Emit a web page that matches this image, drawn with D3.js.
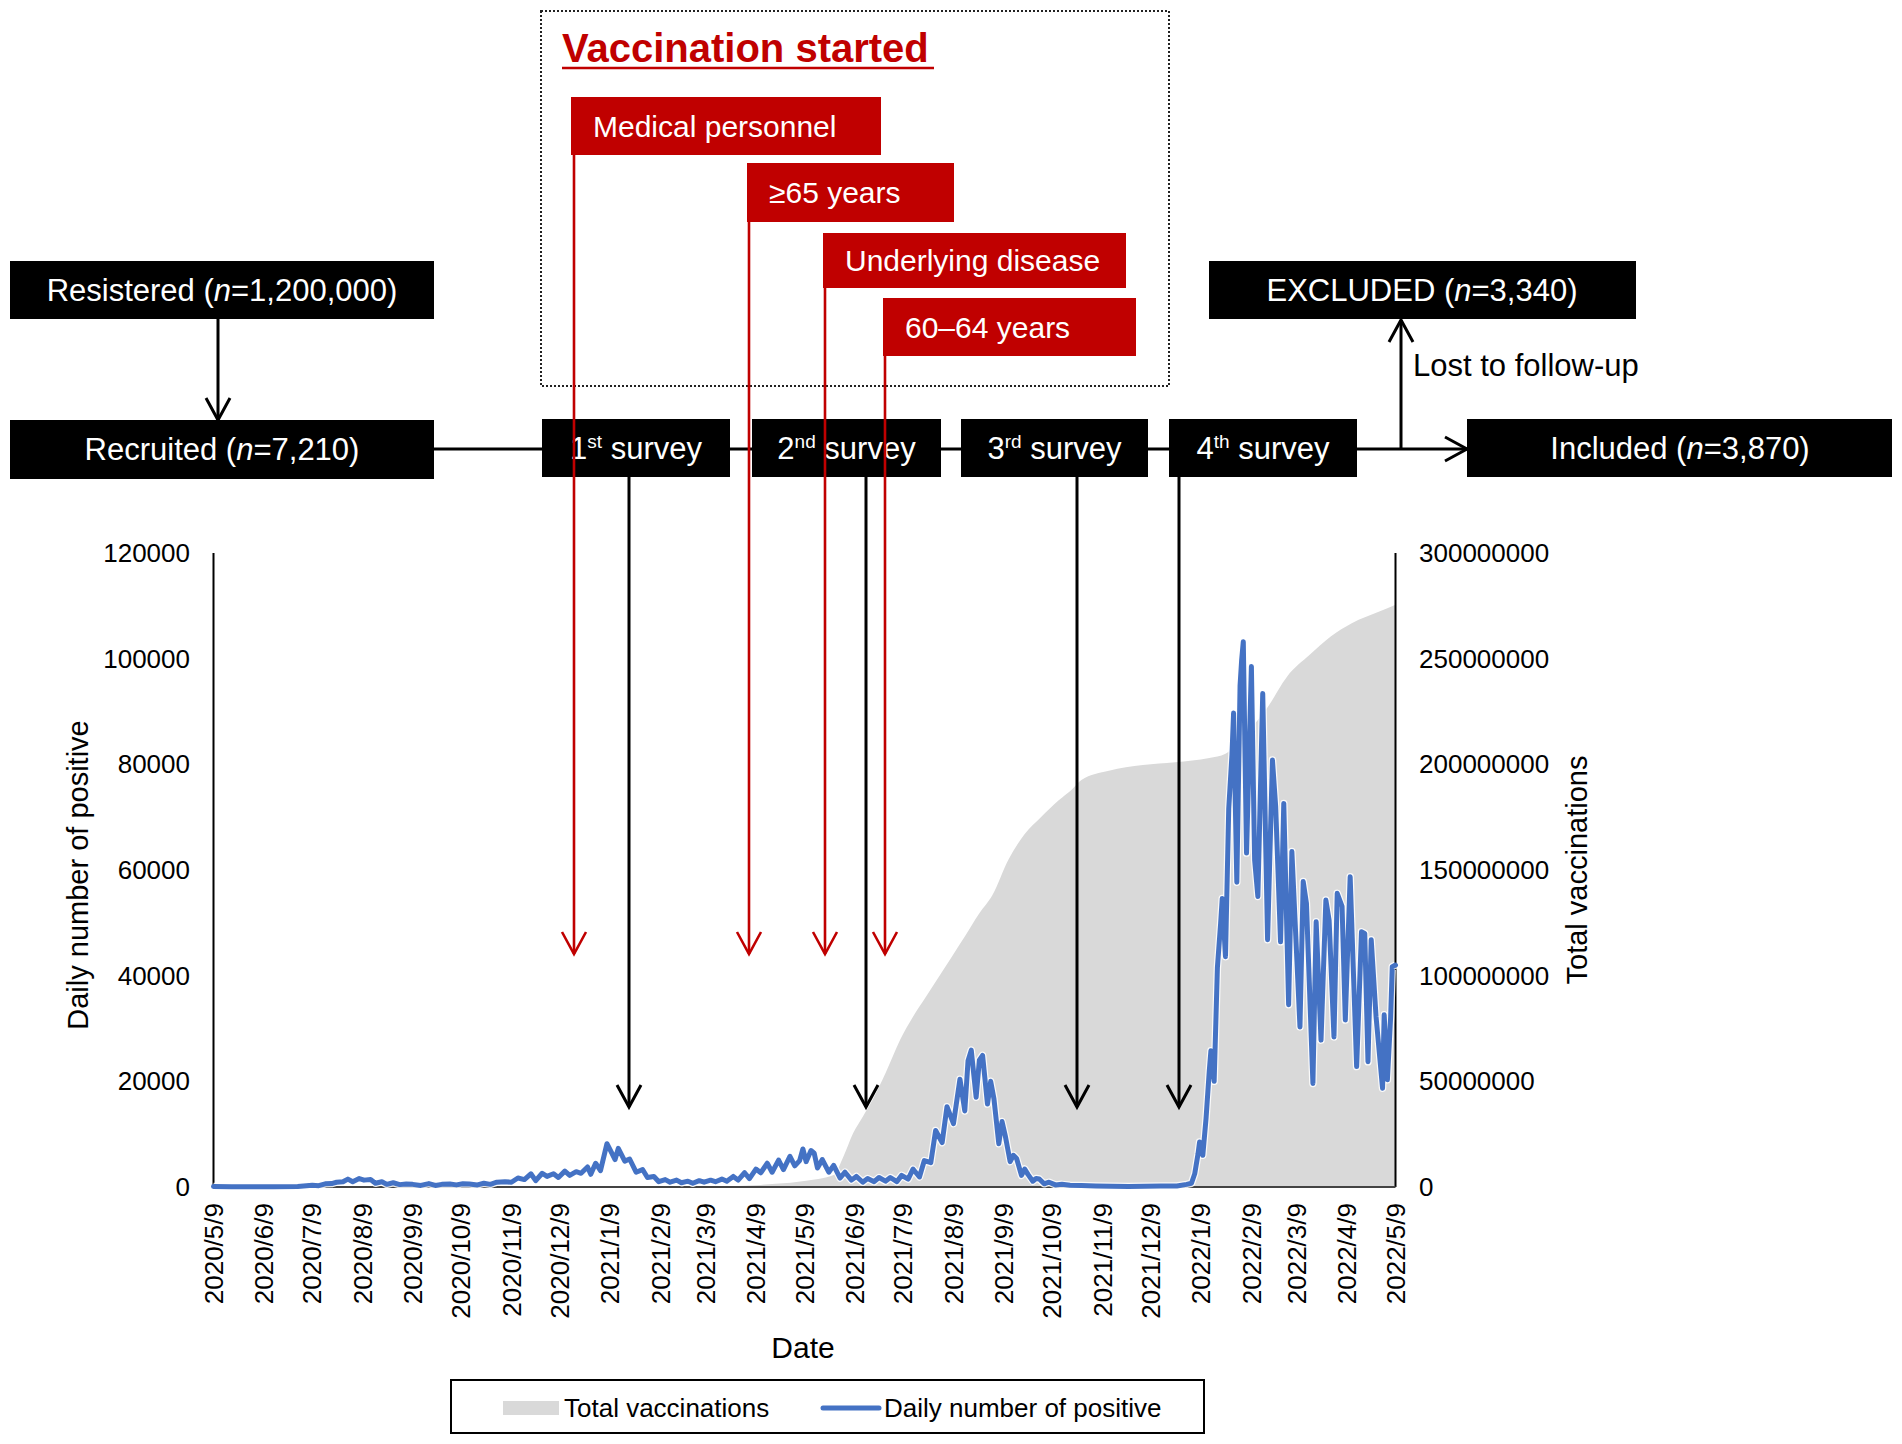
<!DOCTYPE html>
<html><head><meta charset="utf-8">
<script src="https://cdn.jsdelivr.net/npm/d3@7"></script>
<style>
body{margin:0;background:#fff}
svg{display:block}
text{font-family:"Liberation Sans",Arial,Helvetica,sans-serif}
</style>
</head><body>
<svg id="chart" width="1902" height="1444"></svg>
<script>
// ---------------- DATA ----------------
const dateTickLabels = ["2020/5/9","2020/6/9","2020/7/9","2020/8/9","2020/9/9","2020/10/9","2020/11/9","2020/12/9",
  "2021/1/9","2021/2/9","2021/3/9","2021/4/9","2021/5/9","2021/6/9","2021/7/9","2021/8/9","2021/9/9","2021/10/9",
  "2021/11/9","2021/12/9","2022/1/9","2022/2/9","2022/3/9","2022/4/9","2022/5/9"];
const leftTicks = [0,20000,40000,60000,80000,100000,120000];
const rightTicks = [0,50000000,100000000,150000000,200000000,250000000,300000000];

// Daily number of positive (date, value)
const positiveSeries = [
["2020-05-09",90],["2020-05-20",40],["2020-06-01",40],["2020-06-15",60],["2020-06-30",110],["2020-07-09",350],
["2020-07-13",250],["2020-07-17",600],["2020-07-21",650],["2020-07-24",900],["2020-07-28",1000],["2020-07-31",1500],
["2020-08-03",1000],["2020-08-07",1600],["2020-08-10",1300],["2020-08-14",1400],["2020-08-17",700],["2020-08-21",1000],
["2020-08-24",500],["2020-08-28",800],["2020-09-01",450],["2020-09-05",550],["2020-09-09",500],["2020-09-14",300],
["2020-09-19",650],["2020-09-23",300],["2020-09-27",500],["2020-10-02",550],["2020-10-06",400],["2020-10-10",600],
["2020-10-14",550],["2020-10-19",400],["2020-10-23",700],["2020-10-27",500],["2020-10-31",900],["2020-11-05",1000],
["2020-11-09",900],["2020-11-13",1700],["2020-11-17",1400],["2020-11-21",2500],["2020-11-24",1200],["2020-11-28",2600],
["2020-12-01",2000],["2020-12-05",2500],["2020-12-08",1800],["2020-12-12",3000],["2020-12-15",2200],["2020-12-19",2900],
["2020-12-22",2600],["2020-12-26",3800],["2020-12-28",2400],["2020-12-31",4500],["2021-01-03",3100],["2021-01-07",8200],
["2021-01-10",6400],["2021-01-12",5200],["2021-01-14",7300],["2021-01-18",4900],["2021-01-21",5300],["2021-01-25",2800],
["2021-01-29",3300],["2021-02-01",1800],["2021-02-05",2000],["2021-02-08",1000],["2021-02-12",1400],["2021-02-15",900],
["2021-02-19",1300],["2021-02-22",800],["2021-02-26",1100],["2021-03-01",700],["2021-03-05",1200],["2021-03-08",900],
["2021-03-12",1300],["2021-03-15",1000],["2021-03-19",1500],["2021-03-22",1100],["2021-03-26",2000],["2021-03-29",1300],
["2021-04-02",2700],["2021-04-05",1600],["2021-04-09",3400],["2021-04-12",2700],["2021-04-16",4500],["2021-04-19",2800],
["2021-04-23",5100],["2021-04-26",3300],["2021-04-30",5800],["2021-05-03",4000],["2021-05-06",5000],["2021-05-08",7200],
["2021-05-10",4800],["2021-05-13",6900],["2021-05-15",6400],["2021-05-17",3600],["2021-05-20",5200],["2021-05-24",2800],
["2021-05-27",4100],["2021-05-31",1700],["2021-06-03",2800],["2021-06-07",1300],["2021-06-10",2000],["2021-06-14",900],
["2021-06-17",1600],["2021-06-21",1000],["2021-06-24",1800],["2021-06-28",1100],["2021-07-01",1800],["2021-07-05",1000],
["2021-07-08",2200],["2021-07-12",1500],["2021-07-15",3400],["2021-07-19",1900],["2021-07-22",5000],["2021-07-26",4600],
["2021-07-29",10700],["2021-08-02",8400],["2021-08-05",15200],["2021-08-09",12000],["2021-08-13",20400],["2021-08-16",14400],
["2021-08-18",23900],["2021-08-20",25900],["2021-08-23",17000],["2021-08-25",24000],["2021-08-27",24900],["2021-08-30",15700],
["2021-09-01",20000],["2021-09-03",16700],["2021-09-06",8200],["2021-09-08",12400],["2021-09-10",9700],["2021-09-13",4800],
["2021-09-15",6000],["2021-09-17",5400],["2021-09-20",2200],["2021-09-22",3400],["2021-09-24",2400],["2021-09-27",1100],
["2021-09-29",1600],["2021-10-01",1500],["2021-10-04",600],["2021-10-07",900],["2021-10-11",400],["2021-10-15",500],
["2021-10-20",350],["2021-10-27",300],["2021-11-05",200],["2021-11-15",150],["2021-11-25",100],["2021-12-05",130],
["2021-12-15",180],["2021-12-25",200],["2021-12-31",500],["2022-01-03",700],["2022-01-05",2500],["2022-01-07",6200],
["2022-01-08",8500],["2022-01-10",6000],["2022-01-12",13000],["2022-01-14",22000],["2022-01-15",25800],["2022-01-17",20000],
["2022-01-19",41500],["2022-01-21",49900],["2022-01-22",54600],["2022-01-24",43600],["2022-01-26",71600],["2022-01-28",81800],
["2022-01-29",89700],["2022-01-31",57700],["2022-02-02",94900],["2022-02-03",99800],["2022-02-04",103200],["2022-02-06",63200],
["2022-02-09",98500],["2022-02-11",61900],["2022-02-13",55000],["2022-02-16",93400],["2022-02-19",46800],["2022-02-22",80800],
["2022-02-24",72000],["2022-02-27",46400],["2022-03-01",72600],["2022-03-04",34500],["2022-03-06",63500],["2022-03-11",30300],
["2022-03-13",57800],["2022-03-15",53700],["2022-03-19",19600],["2022-03-21",50200],["2022-03-24",27800],["2022-03-27",54300],
["2022-03-29",50500],["2022-04-01",28400],["2022-04-03",55600],["2022-04-06",53100],["2022-04-08",31600],["2022-04-11",58700],
["2022-04-15",22800],["2022-04-18",48300],["2022-04-20",48000],["2022-04-22",23700],["2022-04-24",46800],["2022-04-27",32200],
["2022-05-01",18700],["2022-05-02",32600],["2022-05-04",20300],["2022-05-06",32200],["2022-05-07",41700],["2022-05-09",42000]
];

// Total vaccinations (date, cumulative doses)
const vaccinationSeries = [
["2021-02-17",0],["2021-03-15",300000],["2021-04-12",1000000],["2021-04-21",1500000],["2021-05-10",3000000],
["2021-05-27",5700000],["2021-06-02",14300000],["2021-06-08",25400000],["2021-06-14",33300000],["2021-06-20",41200000],
["2021-06-28",53800000],["2021-07-07",69600000],["2021-07-15",80600000],["2021-07-23",90000000],["2021-07-31",99500000],
["2021-08-08",109000000],["2021-08-16",118500000],["2021-08-25",129500000],["2021-09-02",138000000],["2021-09-12",155000000],
["2021-09-22",167000000],["2021-10-02",175000000],["2021-10-13",183000000],["2021-10-21",188000000],["2021-10-27",192600000],
["2021-11-13",197000000],["2021-12-04",199700000],["2021-12-24",201000000],["2022-01-14",203000000],["2022-01-24",205000000],
["2022-02-05",214000000],["2022-02-19",227000000],["2022-03-03",241500000],["2022-03-17",251800000],["2022-03-30",260500000],
["2022-04-12",266800000],["2022-04-29",272300000],["2022-05-09",275500000]
];

// Flow-chart texts
const vaccineGroups = ["Medical personnel","\u226565 years","Underlying disease","60\u201364 years"];
const surveyNames = [["1","st"],["2","nd"],["3","rd"],["4","th"]];
const legendLabels = ["Total vaccinations","Daily number of positive"];

// ---------------- LAYOUT ----------------
const P = {left:213.5, right:1395.5, top:553, bottom:1187};
const RED = "#C00000", BLUE = "#4472C4", GRAY = "#D9D9D9";
const svg = d3.select("#chart");
const parse = d3.timeParse("%Y-%m-%d");
const parseTick = d3.timeParse("%Y/%m/%d");

const x = d3.scaleTime().domain([parseTick("2020/5/9"), parseTick("2022/5/9")]).range([P.left, P.right]);
const yL = d3.scaleLinear().domain([0,120000]).range([P.bottom, P.top]);
const yR = d3.scaleLinear().domain([0,300000000]).range([P.bottom, P.top]);

const pos = positiveSeries.map(d => ({date: parse(d[0]), v: d[1]}));
const vax = vaccinationSeries.map(d => ({date: parse(d[0]), v: d[1]}));

// gray area
svg.append("path").datum(vax)
  .attr("fill", GRAY)
  .attr("d", d3.area().x(d => x(d.date)).y0(yR(0)).y1(d => yR(d.v)).curve(d3.curveMonotoneX));

// axes lines
const axG = svg.append("g").attr("stroke","#000").attr("stroke-width",2);
axG.append("line").attr("x1",P.left).attr("x2",P.left).attr("y1",P.top).attr("y2",P.bottom);
axG.append("line").attr("x1",P.right).attr("x2",P.right).attr("y1",P.top).attr("y2",P.bottom);
axG.append("line").attr("x1",P.left).attr("x2",P.right).attr("y1",P.bottom).attr("y2",P.bottom).attr("stroke","#444");

// left ticks
svg.append("g").selectAll("text").data(leftTicks).join("text")
  .attr("x",190).attr("y",d=>yL(d)).attr("dy","0.35em").attr("text-anchor","end")
  .attr("font-size",26).text(d=>d);
// right ticks
svg.append("g").selectAll("text").data(rightTicks).join("text")
  .attr("x",1419).attr("y",d=>yR(d)).attr("dy","0.35em").attr("text-anchor","start")
  .attr("font-size",26).text(d=>d);
// date ticks
svg.append("g").selectAll("text").data(dateTickLabels).join("text")
  .attr("transform",d=>`translate(${x(parseTick(d))},1203) rotate(-90)`)
  .attr("dy","0.35em").attr("text-anchor","end").attr("font-size",26).text(d=>d);

// axis titles
svg.append("text").attr("x",803).attr("y",1358).attr("text-anchor","middle").attr("font-size",30).text("Date");
svg.append("text").attr("transform","translate(78,875) rotate(-90)").attr("dy","0.35em")
  .attr("text-anchor","middle").attr("font-size",29).text("Daily number of positive");
svg.append("text").attr("transform","translate(1577,870) rotate(-90)").attr("dy","0.35em")
  .attr("text-anchor","middle").attr("font-size",29).text("Total vaccinations");

// blue line
const line = d3.line().x(d=>x(d.date)).y(d=>yL(d.v)).curve(d3.curveLinear);
svg.append("path").datum(pos).attr("fill","none").attr("stroke","#fff").attr("stroke-opacity",0.85)
  .attr("stroke-width",7.5).attr("stroke-linejoin","round").attr("d",line);
svg.append("path").datum(pos).attr("fill","none").attr("stroke",BLUE)
  .attr("stroke-width",5).attr("stroke-linejoin","round").attr("stroke-linecap","round").attr("d",line);

// ---------------- helpers ----------------
function vArrow(x0, y1, y2, color, w){
  const g = svg.append("g").attr("stroke",color).attr("stroke-width",w).attr("fill","none");
  g.append("line").attr("x1",x0).attr("x2",x0).attr("y1",y1).attr("y2",y2);
  const s = y2 > y1 ? -1 : 1;
  g.append("path").attr("d",`M${x0-12},${y2+s*22} L${x0},${y2} L${x0+12},${y2+s*22}`);
}

// dotted box
svg.append("rect").attr("x",541).attr("y",11).attr("width",628).attr("height",375)
  .attr("fill","none").attr("stroke","#222").attr("stroke-width",2).attr("stroke-dasharray","2,2");
svg.append("text").attr("x",562).attr("y",62).attr("fill",RED).attr("font-size",40).attr("font-weight","bold")
  .text("Vaccination started");
svg.append("line").attr("x1",562).attr("x2",934).attr("y1",68).attr("y2",68).attr("stroke",RED).attr("stroke-width",2.5);

// red boxes
const redBoxGeo = [
  {x:571, y:97, w:310, h:58, ax:574},
  {x:747, y:163, w:207, h:59, ax:749},
  {x:823, y:233, w:303, h:55, ax:825},
  {x:883, y:298, w:253, h:58, ax:885}
];

// black flow boxes
function blackBox(bx,by,bw,bh){
  svg.append("rect").attr("x",bx).attr("y",by).attr("width",bw).attr("height",bh).attr("fill","#000");
}
function nText(cx, cy, pre, post){
  const t = svg.append("text").attr("x",cx).attr("y",cy).attr("dy","0.35em").attr("text-anchor","middle")
    .attr("fill","#fff").attr("font-size",31);
  t.append("tspan").text(pre);
  t.append("tspan").attr("font-style","italic").text("n");
  t.append("tspan").text(post);
}
// main flow lines
const fl = svg.append("g").attr("stroke","#000").attr("stroke-width",3).attr("fill","none");
fl.append("line").attr("x1",434).attr("x2",1467).attr("y1",449).attr("y2",449);
fl.append("path").attr("d","M1445,437 L1467,449 L1445,461");
vArrow(218, 319, 420, "#000", 3);
vArrow(1401, 449, 320, "#000", 3);

blackBox(10,261,424,58); nText(222,290,"Resistered (","=1,200,000)");
blackBox(10,420,424,59); nText(222,449.5,"Recruited (","=7,210)");
blackBox(1209,261,427,58); nText(1422,290,"EXCLUDED (","=3,340)");
blackBox(1467,419,425,58); nText(1680,448,"Included (","=3,870)");
svg.append("text").attr("x",1413).attr("y",376).attr("font-size",31).text("Lost to follow-up");

const surveyGeo = [
  {x:542, w:188, ax:629},
  {x:752, w:189, ax:866},
  {x:961, w:187, ax:1077},
  {x:1169, w:188, ax:1179}
];
surveyGeo.forEach((s,i)=>{
  blackBox(s.x,419,s.w,58);
  const t = svg.append("text").attr("x",s.x+s.w/2).attr("y",448).attr("dy","0.35em")
    .attr("text-anchor","middle").attr("fill","#fff").attr("font-size",31);
  t.append("tspan").text(surveyNames[i][0]);
  t.append("tspan").attr("font-size",19).attr("dy",-11).text(surveyNames[i][1]);
  t.append("tspan").attr("dy",11).text(" survey");
});

// survey arrows into chart
surveyGeo.forEach(s => vArrow(s.ax, 477, 1107, "#000", 3));

// red boxes + red arrows (drawn above survey boxes)
redBoxGeo.forEach((b,i)=>{
  svg.append("rect").attr("x",b.x).attr("y",b.y).attr("width",b.w).attr("height",b.h).attr("fill",RED);
  svg.append("text").attr("x",b.x+22).attr("y",b.y+b.h/2).attr("dy","0.35em").attr("fill","#fff")
    .attr("font-size",30).text(vaccineGroups[i]);
  vArrow(b.ax, b.y+b.h, 954, RED, 2.6);
});

// legend
const lg = svg.append("g");
lg.append("rect").attr("x",451).attr("y",1380).attr("width",753).attr("height",53)
  .attr("fill","#fff").attr("stroke","#000").attr("stroke-width",2);
lg.append("rect").attr("x",503).attr("y",1401).attr("width",56).attr("height",14).attr("fill",GRAY);
lg.append("text").attr("x",564).attr("y",1408).attr("dy","0.35em").attr("font-size",26).text(legendLabels[0]);
lg.append("line").attr("x1",823).attr("x2",879).attr("y1",1408).attr("y2",1408)
  .attr("stroke",BLUE).attr("stroke-width",5).attr("stroke-linecap","round");
lg.append("text").attr("x",884).attr("y",1408).attr("dy","0.35em").attr("font-size",26).text(legendLabels[1]);
</script>
</body></html>
